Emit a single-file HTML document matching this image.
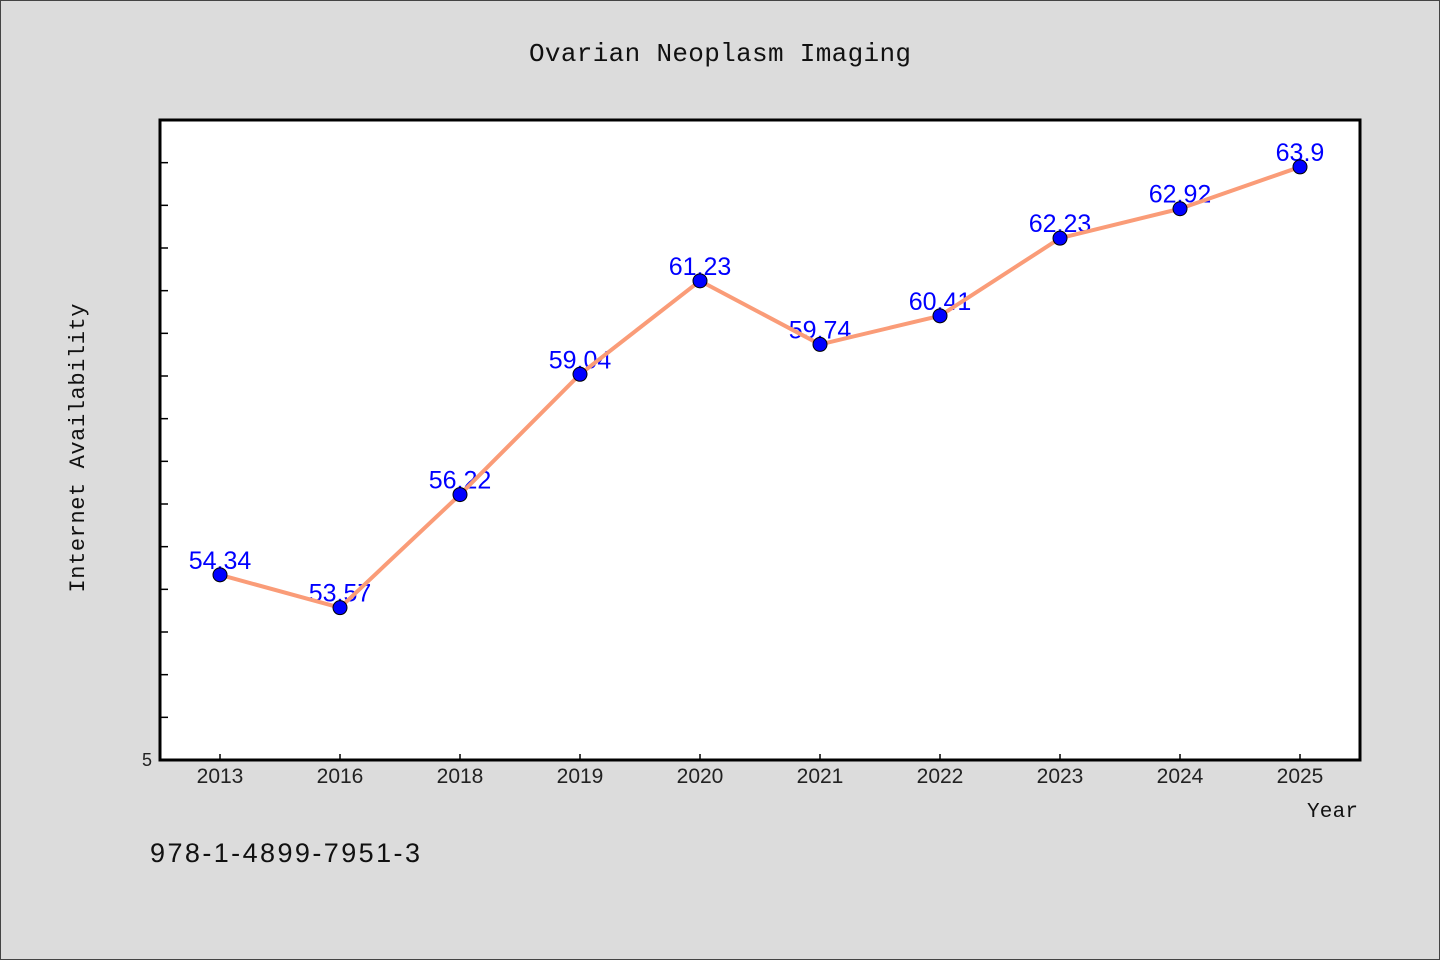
<!DOCTYPE html>
<html><head><meta charset="utf-8"><style>
html,body{margin:0;padding:0;background:#dcdcdc;}
svg{display:block;}
</style></head><body>
<svg id="chart" width="1440" height="960" viewBox="0 0 1440 960" xmlns="http://www.w3.org/2000/svg">
<rect x="0.5" y="0.5" width="1439" height="959" fill="#dcdcdc" stroke="#444" stroke-width="1"/>
<text x="720" y="61" text-anchor="middle" font-family="Liberation Mono, monospace" font-size="26" textLength="382" fill="#111">Ovarian Neoplasm Imaging</text>
<rect x="160" y="120" width="1200" height="640" fill="#fff" stroke="#000" stroke-width="3"/>
<g id="yticks"></g><g id="xticks"></g>
<text transform="translate(84,448) rotate(-90)" text-anchor="middle" font-family="Liberation Mono, monospace" font-size="22" textLength="289" fill="#111">Internet Availability</text>
<text x="1358" y="817" text-anchor="end" font-family="Liberation Mono, monospace" font-size="21" textLength="51" fill="#111">Year</text>
<text x="150" y="862" font-family="Liberation Sans, sans-serif" font-size="27" textLength="270" fill="#111">978-1-4899-7951-3</text>
<g id="labels"></g><g id="line"></g><g id="points"></g>
</svg>
<script>
const categories = ["2013","2016","2018","2019","2020","2021","2022","2023","2024","2025"];
const values = [54.34,53.57,56.22,59.04,61.23,59.74,60.41,62.23,62.92,63.9];
const valueLabels = ["54.34","53.57","56.22","59.04","61.23","59.74","60.41","62.23","62.92","63.9"];
const yMin = 50, yMax = 65;
const yTickLabels = ["5"];
const NS="http://www.w3.org/2000/svg";
const L=160,R=1360,T=120,B=760;
function x(i){const bw=(R-L)/categories.length;return L+bw*(i+0.5);}
function y(v){return B-(v-yMin)/(yMax-yMin)*(B-T);}
function mk(tag,attrs,parent){const e=document.createElementNS(NS,tag);for(const k in attrs)e.setAttribute(k,attrs[k]);parent.appendChild(e);return e;}
const yt=document.getElementById('yticks');
for(let v=yMin+1;v<yMax;v++){
  const t=mk('line',{x1:L,x2:L+8,y1:y(v),y2:y(v),stroke:'#000','stroke-width':1.5},yt);
  
  
}
const yl=mk('text',{x:L-8,y:B+6,'text-anchor':'end','font-family':'Liberation Sans, sans-serif','font-size':18,fill:'#222'},yt);
yl.textContent=yTickLabels[0];


const xt=document.getElementById('xticks');
categories.forEach((c,i)=>{
  const t=mk('line',{x1:x(i),x2:x(i),y1:B,y2:B-6,stroke:'#000','stroke-width':1.5},xt);
  
  
  const l=mk('text',{x:x(i),y:B+23,'text-anchor':'middle','font-family':'Liberation Sans, sans-serif','font-size':21,fill:'#222'},xt);
  l.textContent=c;
  
  
});
const lb=document.getElementById('labels');
values.forEach((v,i)=>{
  const t=mk('text',{x:x(i),y:y(v)-6,'text-anchor':'middle','font-family':'Liberation Sans, sans-serif','font-size':25,fill:'#0000ff'},lb);
  t.textContent=valueLabels[i];
  
  
});
const pts=values.map((v,i)=>x(i)+','+y(v)).join(' ');
const pl=mk('polyline',{points:pts,fill:'none',stroke:'#fa9c78','stroke-width':4,'stroke-linejoin':'round'},document.getElementById('line'));


const pg=document.getElementById('points');
values.forEach((v,i)=>{
  const c=mk('circle',{cx:x(i),cy:y(v),r:7,fill:'#0000ff',stroke:'#000','stroke-width':1},pg);
  
  
});
</script>
</body></html>
